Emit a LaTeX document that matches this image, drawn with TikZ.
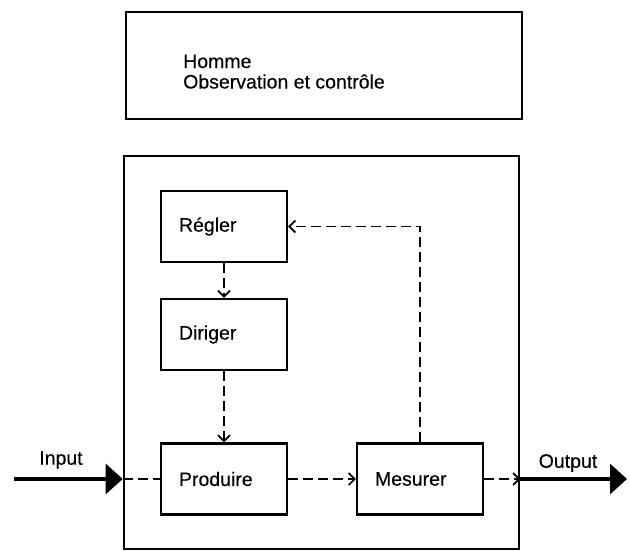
\documentclass[tikz,border=0pt]{standalone}
\usepackage{fontspec}
\setmainfont{Liberation Sans}[FakeBold=0.3]
\usetikzlibrary{arrows.meta}
\begin{document}
\begin{tikzpicture}[x=1pt,y=-1pt,
  every node/.style={font=\fontsize{19.5}{20.5}\selectfont},
  frame/.style={draw, line width=2.6pt, inner sep=0pt},
  stage/.style={draw, line width=2.2pt, minimum width=126pt, minimum height=71pt,
    text width=90pt, inner xsep=18pt, inner ysep=0pt, align=left},
  flow/.style={line width=1.7pt, dash pattern=on 10pt off 5pt},
  barb/.style={-{Straight Barb[length=6pt,width=12pt]}},
  bigarrow/.style={line width=3.2pt, -{Triangle[length=17pt,width=30pt]}}
]
\useasboundingbox (0,0) rectangle (630,551);

% supervision box
\node[frame, minimum width=396pt, minimum height=107pt] (homme) at (324,65.5) {};
\node[anchor=base west, align=left, inner sep=0pt] (hommetxt) at (183,88.5)
  {Homme\\Observation et contrôle};

% system box with its four stages
\node[frame, minimum width=395pt, minimum height=393pt] (sys) at (321.5,352.5) {};
\node[stage] (reg)  at (224,226.5) {Régler};
\node[stage] (dir)  at (224,334.5) {Diriger};
\node[stage] (prod) at (224,479)   {Produire};
\node[stage] (mes)  at (420,479)   {Mesurer};

% input and output
\coordinate (inp)  at (14,479);
\coordinate (outp) at (627,479);
\node (inlbl)  at (61,460)  {Input};
\node (outlbl) at (568,463) {Output};

\draw[bigarrow] (inp) -- (inp -| sys.west);
\draw[flow] (inp -| sys.west) -- (prod.west);
\draw[flow, barb] (prod.east) -- (mes.west);
\draw[flow, barb] (mes.east) -- (mes.east -| sys.east);
\draw[bigarrow] (mes.east -| sys.east) -- (outp);

% control chain and feedback
\draw[flow, barb] (reg.south) -- (dir.north);
\draw[flow, barb] (dir.south) -- (prod.north);
\draw[flow, barb] (mes.north) |- (reg.east);
\end{tikzpicture}
\end{document}
